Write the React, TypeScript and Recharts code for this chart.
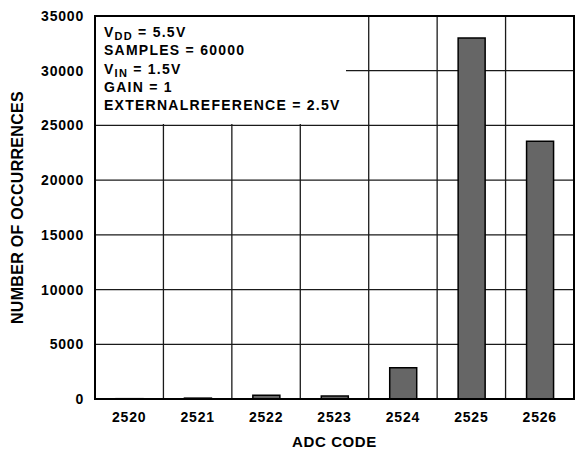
import React from 'react';
import { BarChart, Bar, XAxis, YAxis, CartesianGrid } from 'recharts';

const adcCodes = ['2520', '2521', '2522', '2523', '2524', '2525', '2526'];
const occurrences = [30, 80, 340, 270, 2860, 33000, 23550];
const yTicks = [0, 5000, 10000, 15000, 20000, 25000, 30000, 35000];

const data = adcCodes.map((code, i) => ({ code, count: occurrences[i] }));

const FONT = '"Liberation Sans", Arial, Helvetica, sans-serif';

const W = 578;
const H = 451;
const M = { top: 16, right: 4, bottom: 22, left: 0 };
const Y_AXIS_W = 95;
const X_AXIS_H = 30;

const tickStyle = { fontFamily: FONT, fontSize: 14, fontWeight: 700, fill: '#000', letterSpacing: 0.8 };

// grid lines sit on the category boundaries, not on the tick centres
const boundaries = ({ offset }: any) => {
  const out: number[] = [];
  for (let i = 1; i < adcCodes.length; i++) out.push(offset.left + (i * offset.width) / adcCodes.length);
  return out;
};

const App: React.FC = () => {
  const plotLeft = M.left + Y_AXIS_W;
  const plotTop = M.top;
  const plotW = W - plotLeft - M.right;
  const plotH = H - M.top - M.bottom - X_AXIS_H;

  return (
    <div style={{ position: 'absolute', left: 0, top: 0, width: W, height: H, background: '#fff' }}>
      <BarChart width={W} height={H} data={data} margin={M}>
        <CartesianGrid
          stroke="#1a1a1a"
          strokeWidth={1.3}
          verticalCoordinatesGenerator={boundaries}
        />
        <XAxis
          dataKey="code"
          height={X_AXIS_H}
          tickLine={false}
          axisLine={false}
          tickMargin={7}
          tick={tickStyle}
          interval={0}
          label={{
            value: 'ADC CODE',
            position: 'bottom',
            offset: 7,
            style: { fontFamily: FONT, fontSize: 15, fontWeight: 700, fill: '#000', letterSpacing: 0.6 },
          }}
        />
        <YAxis
          width={Y_AXIS_W}
          domain={[0, 35000]}
          ticks={yTicks}
          tickLine={false}
          axisLine={false}
          tickMargin={5}
          tick={tickStyle}
          interval={0}
          label={{
            value: 'NUMBER OF OCCURRENCES',
            angle: -90,
            position: 'center',
            dx: -30,
            style: { fontFamily: FONT, fontSize: 16, fontWeight: 700, fill: '#000', letterSpacing: 0.3 },
          }}
        />
        <Bar
          dataKey="count"
          barSize={27}
          fill="#666666"
          stroke="#000"
          strokeWidth={1.5}
          isAnimationActive={false}
        />
      </BarChart>

      {/* conditions box, hides the grid behind it */}
      <div
        style={{
          position: 'absolute',
          left: plotLeft + 1,
          top: plotTop + 1,
          width: 250,
          height: 107,
          background: '#fff',
          boxSizing: 'border-box',
          padding: '6px 0 0 8px',
          fontFamily: FONT,
          fontSize: 14,
          fontWeight: 700,
          lineHeight: '18.3px',
          letterSpacing: 1.25,
          color: '#000',
          whiteSpace: 'nowrap',
        }}
      >
        <div>V<sub style={{ fontSize: 11, verticalAlign: -3, lineHeight: 0 }}>DD</sub> = 5.5V</div>
        <div>SAMPLES = 60000</div>
        <div>V<sub style={{ fontSize: 11, verticalAlign: -3, lineHeight: 0 }}>IN</sub> = 1.5V</div>
        <div>GAIN = 1</div>
        <div>EXTERNALREFERENCE = 2.5V</div>
      </div>

      {/* plot frame */}
      <div
        style={{
          position: 'absolute',
          left: plotLeft - 1,
          top: plotTop - 1,
          width: plotW + 2,
          height: plotH + 2,
          border: '2px solid #000',
          boxSizing: 'border-box',
          pointerEvents: 'none',
        }}
      />
    </div>
  );
};

export default App;
